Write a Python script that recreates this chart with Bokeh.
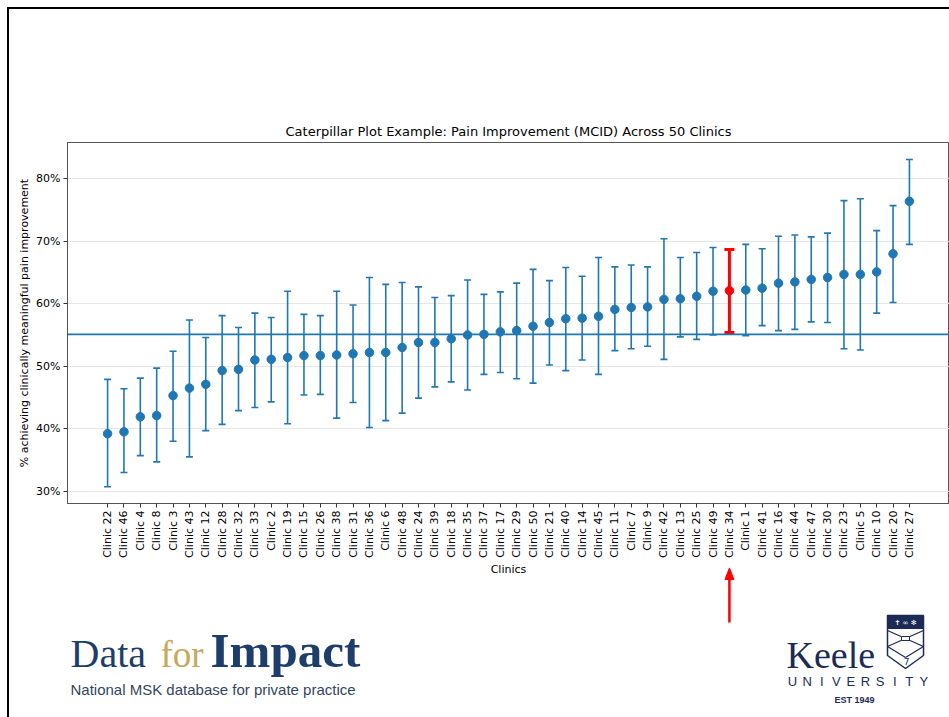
from math import pi
from bokeh.plotting import figure
from bokeh.layouts import column
from bokeh.models import (FactorRange, Range1d, Span, FixedTicker, PrintfTickFormatter,
                          ColumnDataSource)
from bokeh.core.properties import value
from bokeh.embed import file_html
from bokeh.resources import INLINE

# ---------------- data ----------------
clinics = ["Clinic 22", "Clinic 46", "Clinic 4", "Clinic 8", "Clinic 3", "Clinic 43", "Clinic 12",
           "Clinic 28", "Clinic 32", "Clinic 33", "Clinic 2", "Clinic 19", "Clinic 15", "Clinic 26",
           "Clinic 38", "Clinic 31", "Clinic 36", "Clinic 6", "Clinic 48", "Clinic 24", "Clinic 39",
           "Clinic 18", "Clinic 35", "Clinic 37", "Clinic 17", "Clinic 29", "Clinic 50", "Clinic 21",
           "Clinic 40", "Clinic 14", "Clinic 45", "Clinic 11", "Clinic 7", "Clinic 9", "Clinic 42",
           "Clinic 13", "Clinic 25", "Clinic 49", "Clinic 34", "Clinic 1", "Clinic 41", "Clinic 16",
           "Clinic 44", "Clinic 47", "Clinic 30", "Clinic 23", "Clinic 5", "Clinic 10", "Clinic 20",
           "Clinic 27"]
means = [39.2, 39.5, 41.9, 42.1, 45.3, 46.5, 47.1, 49.3, 49.5, 51.0, 51.1, 51.4, 51.7, 51.7,
         51.8, 52.0, 52.2, 52.2, 53.0, 53.8, 53.8, 54.4, 55.0, 55.1, 55.5, 55.7, 56.4, 57.0,
         57.6, 57.7, 58.0, 59.1, 59.4, 59.5, 60.7, 60.8, 61.2, 62.0, 62.1, 62.2, 62.5, 63.3,
         63.5, 63.9, 64.2, 64.7, 64.7, 65.1, 68.0, 76.4]
lower = [30.7, 33.0, 35.7, 34.7, 38.0, 35.5, 39.7, 40.7, 42.9, 43.4, 44.3, 40.8, 45.4, 45.5,
         41.7, 44.2, 40.2, 41.3, 42.5, 44.9, 46.7, 47.5, 46.2, 48.7, 49.0, 48.0, 47.3, 50.2,
         49.3, 51.0, 48.7, 52.5, 52.8, 53.2, 51.1, 54.7, 54.3, 55.0, 55.4, 54.9, 56.5, 55.7,
         55.9, 57.1, 57.0, 52.8, 52.6, 58.5, 60.2, 69.5]
upper = [47.9, 46.4, 48.1, 49.7, 52.4, 57.4, 54.6, 58.1, 56.2, 58.5, 57.8, 62.0, 58.3, 58.1,
         62.0, 59.8, 64.2, 63.1, 63.4, 62.7, 61.0, 61.3, 63.8, 61.5, 61.9, 63.3, 65.5, 63.7,
         65.8, 64.4, 67.4, 65.9, 66.2, 65.9, 70.4, 67.4, 68.2, 69.0, 68.7, 69.5, 68.8, 70.8,
         71.0, 70.7, 71.3, 76.5, 76.8, 71.7, 75.7, 83.1]
overall_rate = 55.1
highlight = "Clinic 34"
y_ticks = [30, 40, 50, 60, 70, 80]

# ---------------- layout constants ----------------
W, H = 949, 717
OX, OY = 9, 9             # content origin inside the slide border
CW = W - OX               # content width
CH_BOTTOM = 578           # page y where the chart figure ends
CH_H = CH_BOTTOM - OY
OVER = 12                 # footer overlaps the chart bottom by this much
FOOT_TOP = CH_BOTTOM - OVER
FOOT_H = H - FOOT_TOP
FL, FT, FB = 67 - OX, 142 - OY, CH_BOTTOM - 506
PAD = 1.95
Y0, Y1 = 28.03, 85.81
FW = CW - FL
N = len(clinics)
BLUE = "#1f77b4"
NAVY = "#1c2b55"
FONT = "DejaVu Sans"

# ---------------- chart ----------------
p = figure(width=CW, height=CH_H,
           x_range=FactorRange(factors=clinics, range_padding=PAD, range_padding_units="absolute"),
           y_range=Range1d(Y0, Y1),
           output_backend="svg", toolbar_location=None,
           min_border_left=FL, min_border_top=FT, min_border_bottom=FB, min_border_right=0,
           x_axis_label="Clinics",
           y_axis_label="% achieving clinically meaningful pain improvement")
p.background_fill_color = "white"
p.border_fill_color = "white"
p.outline_line_color = "#555555"
p.outline_line_width = 1

p.title.text = "Caterpillar Plot Example: Pain Improvement (MCID) Across 50 Clinics"
p.title.align = "center"
p.title.text_font = FONT
p.title.text_font_size = "13px"
p.title.text_font_style = "normal"
p.title.text_color = "black"
p.title.standoff = 7

reg = dict(clinic=[], mean=[], lo=[], hi=[])
hl = dict(clinic=[], mean=[], lo=[], hi=[])
for c, m, lo, hi in zip(clinics, means, lower, upper):
    d = hl if c == highlight else reg
    d["clinic"].append(c)
    d["mean"].append(m)
    d["lo"].append(lo)
    d["hi"].append(hi)
src = ColumnDataSource(reg)
hsrc = ColumnDataSource(hl)

p.segment(x0="clinic", y0="lo", x1="clinic", y1="hi", source=src, line_color=BLUE, line_width=1.6)
p.scatter(x="clinic", y="hi", marker="dash", size=7, line_color=BLUE, line_width=1.6, source=src)
p.scatter(x="clinic", y="lo", marker="dash", size=7, line_color=BLUE, line_width=1.6, source=src)
p.scatter(x="clinic", y="mean", marker="circle", size=8.5, fill_color=BLUE, line_color=BLUE, source=src)

p.segment(x0="clinic", y0="lo", x1="clinic", y1="hi", source=hsrc, line_color="red", line_width=3)
p.scatter(x="clinic", y="hi", marker="dash", size=10, line_color="red", line_width=3, source=hsrc)
p.scatter(x="clinic", y="lo", marker="dash", size=10, line_color="red", line_width=3, source=hsrc)
p.scatter(x="clinic", y="mean", marker="circle", size=8.5, fill_color="red", line_color="red", source=hsrc)

p.add_layout(Span(location=overall_rate, dimension="width", line_color=BLUE, line_width=1.6))

p.xgrid.grid_line_color = None
p.ygrid.grid_line_color = "#e6e6e6"
p.ygrid.grid_line_width = 1
p.yaxis.ticker = FixedTicker(ticks=y_ticks)
p.yaxis.formatter = PrintfTickFormatter(format="%d%%")
p.xaxis.major_label_orientation = pi / 2
for ax in (p.xaxis[0], p.yaxis[0]):
    ax.axis_line_color = "#555555"
    ax.major_tick_line_color = "#333333"
    ax.minor_tick_line_color = None
    ax.major_tick_out = 4
    ax.major_tick_in = 0
    ax.major_label_text_font = FONT
    ax.major_label_text_font_size = "11px"
    ax.major_label_text_color = "black"
    ax.axis_label_text_font = FONT
    ax.axis_label_text_font_size = "11px"
    ax.axis_label_text_font_style = "normal"
    ax.axis_label_text_color = "black"
    ax.major_label_standoff = 3
    ax.axis_label_standoff = 2

# ---------------- footer (arrow + logos), page pixel coordinates ----------------
# its frame lines up with the chart frame (page x 67..949)
ft = figure(width=CW, height=FOOT_H, x_range=Range1d(OX + FL, W), y_range=Range1d(H, FOOT_TOP),
            output_backend="svg", toolbar_location=None,
            x_axis_location=None, y_axis_location=None,
            min_border_left=FL, min_border_right=0, min_border_top=0, min_border_bottom=0,
            margin=(-OVER, 0, 0, 0))
ft.xgrid.visible = False
ft.ygrid.visible = False
ft.outline_line_color = None
ft.background_fill_color = None
ft.border_fill_color = None

# red arrow pointing at the highlighted clinic label
hx = clinics.index(highlight) + 0.5
ax_px = OX + FL + (PAD + hx) * FW / (N + 2 * PAD)
ft.segment(x0=[ax_px], y0=[577], x1=[ax_px], y1=[622], line_color="red", line_width=2.5)
ft.patch(x=[ax_px, ax_px + 4.5, ax_px - 4.5], y=[567.5, 579, 579],
         fill_color="red", line_color="red", line_width=1)

BL = 0.375  # baseline compensation (fraction of font size)


def txt(x, y, s, font, size, color, style="normal", align="left"):
    ft.text(x=x if isinstance(x, list) else [x],
            y=[v - BL * size for v in (y if isinstance(y, list) else [y])],
            text=s if isinstance(s, list) else [s],
            text_font=value(font), text_font_size=f"{size}px", text_font_style=style,
            text_color=color, text_align=align, text_baseline="alphabetic")


# Data for Impact logo
txt(70, 668, "Data", "Liberation Serif", 40, "#1d3d6b")
txt(160, 668, "for", "Liberation Serif", 37, "#c8a85e")
txt(210, 668, "Impact", "Liberation Serif", 49, "#1d3d6b", style="bold")
txt(70, 695, "National MSK database for private practice", "Liberation Sans", 15, "#33465e")

# Keele University logo
txt(786, 669, "Keele", "Liberation Serif", 38, NAVY)
letters = list("UNIVERSITY")
txt([792 + i * 14.6 for i in range(len(letters))], [686] * len(letters), letters,
    "Liberation Sans", 13, NAVY, align="center")
txt(854, 703, "EST 1949", "Liberation Sans", 9, NAVY, style="bold", align="center")
# shield
ft.patch(x=[887, 923, 923, 905, 887], y=[615, 615, 655, 668, 655],
         fill_color="white", line_color=NAVY, line_width=1.5)
ft.patch(x=[887, 923, 923, 887], y=[615, 615, 628, 628], fill_color=NAVY, line_color=NAVY, line_width=1)
ft.segment(x0=[887, 923, 887, 905], y0=[630, 630, 646, 657], x1=[923, 887, 905, 923], y1=[646, 646, 657, 646],
           line_color=NAVY, line_width=1.2)
ft.rect(x=[905], y=[638], width=8, height=4, fill_color="white", line_color=NAVY, line_width=1)
txt(905, 625, "✝ ∞ ✻", "DejaVu Sans", 7, "white", align="center")
txt(906, 664, "7", "DejaVu Sans", 9, NAVY, align="center")

layout = column(p, ft, styles={"margin-left": "7px", "margin-top": "7px",
                               "border-left": "2px solid black", "border-top": "2px solid black"})
open("out.html", "w").write(file_html(layout, INLINE))
